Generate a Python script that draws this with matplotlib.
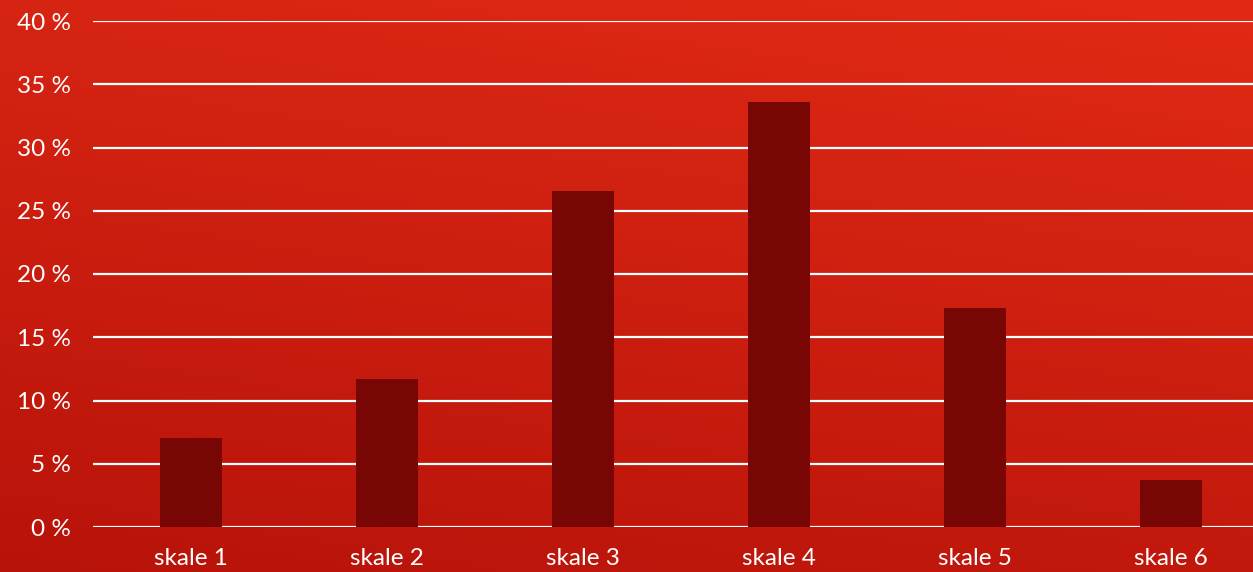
import numpy as np
import matplotlib.pyplot as plt
from matplotlib.colors import LinearSegmentedColormap

categories = ['skale 1', 'skale 2', 'skale 3', 'skale 4', 'skale 5', 'skale 6']
values = [7.0, 11.7, 26.6, 33.6, 17.3, 3.7]
yticks = [0, 5, 10, 15, 20, 25, 30, 35, 40]

plt.rcParams['font.family'] = ['Lato', 'DejaVu Sans']

fig = plt.figure(figsize=(12.53, 5.72), dpi=100)

# background gradient, darker bottom-left, brighter top-right
bg = fig.add_axes([0, 0, 1, 1], zorder=0)
yy, xx = np.mgrid[0:1:200j, 0:1:400j]
grad = 0.75 * yy + 0.25 * xx
cmap = LinearSegmentedColormap.from_list('bg', ['#b8130a', '#e12a15'])
bg.imshow(grad, cmap=cmap, origin='lower', extent=[0, 1, 0, 1], aspect='auto')
bg.axis('off')

# plot area runs a bit past the right edge of the figure
ax = fig.add_axes([93 / 1253, 45 / 572, 1176 / 1253, 506 / 572], zorder=1)
ax.patch.set_alpha(0)
x = np.arange(len(categories))
ax.bar(x, values, width=0.32, color='#780605', zorder=3)
ax.set_xlim(-0.5, len(categories) - 0.5)
ax.set_ylim(0, 40)
ax.set_yticks(yticks)
ax.set_yticklabels([f'{t} %' for t in yticks])
ax.set_xticks(x)
ax.set_xticklabels(categories)
ax.yaxis.grid(True, color='white', linewidth=1.6, zorder=1)
ax.set_axisbelow(True)
ax.tick_params(axis='both', length=0, colors='white', labelsize=17.5)
ax.tick_params(axis='y', pad=16)
ax.tick_params(axis='x', pad=15)
for s in ax.spines.values():
    s.set_visible(False)

fig.savefig('out.png', dpi=100)
